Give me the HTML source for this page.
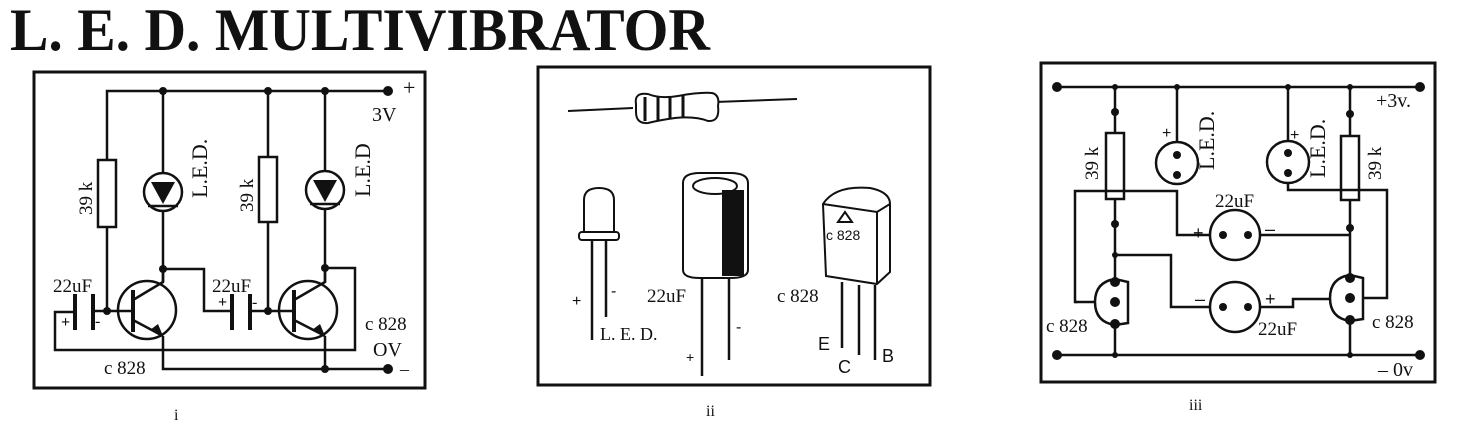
<!DOCTYPE html>
<html><head><meta charset="utf-8"><style>
html,body{margin:0;padding:0;background:#fff;}
svg{display:block;}
text{font-family:"Liberation Serif",serif;fill:#111;}
.s{font-family:"Liberation Sans",sans-serif;}
</style></head><body>
<svg width="1461" height="432" viewBox="0 0 1461 432" xmlns="http://www.w3.org/2000/svg">
<rect width="1461" height="432" fill="#fff"/>
<text x="10" y="50" font-size="60" font-weight="bold" textLength="700" lengthAdjust="spacingAndGlyphs">L. E. D. MULTIVIBRATOR</text>

<!-- Panel i -->
<g stroke="#111" stroke-width="2.5" fill="none">
<rect x="34" y="72" width="391" height="316" stroke-width="3"/>
<polyline points="107,311 107,91 388,91"/>
<line x1="163" y1="91" x2="163" y2="282"/>
<line x1="268" y1="91" x2="268" y2="311"/>
<line x1="325" y1="91" x2="325" y2="282"/>
<rect x="98" y="160" width="18" height="67" fill="#fff"/>
<rect x="259" y="157" width="18" height="65" fill="#fff"/>
<circle cx="163" cy="192" r="19" fill="#fff"/>
<circle cx="325" cy="190" r="19" fill="#fff"/>
<line x1="148" y1="206" x2="178" y2="206"/>
<line x1="310" y1="204" x2="340" y2="204"/>
<circle cx="147" cy="310" r="29" fill="#fff"/>
<circle cx="308" cy="310" r="29" fill="#fff"/>
<line x1="133" y1="290" x2="133" y2="332" stroke-width="4"/>
<line x1="294" y1="290" x2="294" y2="332" stroke-width="4"/>
<line x1="107" y1="311" x2="133" y2="311"/>
<line x1="268" y1="311" x2="294" y2="311"/>
<polyline points="133,300 163,282 163,269 204,269 204,311 232,311"/>
<polyline points="294,300 325,282 325,268 355,268 355,350 55,350 55,312 75,312"/>
<line x1="133" y1="320" x2="163" y2="336"/>
<line x1="294" y1="320" x2="325" y2="336"/>
<polyline points="163,336 163,369 388,369"/>
<line x1="325" y1="336" x2="325" y2="369"/>
<line x1="75" y1="294" x2="75" y2="330" stroke-width="4"/>
<line x1="93" y1="294" x2="93" y2="330" stroke-width="4"/>
<line x1="93" y1="311" x2="107" y2="311"/>
<line x1="232" y1="294" x2="232" y2="330" stroke-width="4"/>
<line x1="250" y1="294" x2="250" y2="330" stroke-width="4"/>
<line x1="250" y1="311" x2="268" y2="311"/>
</g>
<g fill="#111">
<polygon points="151,182 175,182 163,204"/>
<polygon points="313,180 337,180 325,202"/>
<polygon points="163,336 150,330 158,324"/>
<polygon points="325,336 312,330 320,324"/>
<circle cx="163" cy="91" r="4"/><circle cx="268" cy="91" r="4"/><circle cx="325" cy="91" r="4"/>
<circle cx="388" cy="91" r="5"/><circle cx="388" cy="369" r="5"/>
<circle cx="107" cy="311" r="4"/><circle cx="268" cy="311" r="4"/>
<circle cx="163" cy="269" r="4"/><circle cx="325" cy="268" r="4"/><circle cx="325" cy="369" r="4"/>
</g>
<text font-size="19" transform="translate(92,215) rotate(-90)">39 k</text>
<text font-size="19" transform="translate(253,212) rotate(-90)">39 k</text>
<text font-size="22" transform="translate(207,198) rotate(-90)">L.E.D.</text>
<text font-size="22" transform="translate(370,197) rotate(-90)">L.E.D</text>
<text x="53" y="292" font-size="19">22uF</text>
<text x="212" y="292" font-size="19">22uF</text>
<text x="61" y="327" font-size="16" font-weight="bold">+</text>
<text x="95" y="326" font-size="16">-</text>
<text x="218" y="307" font-size="16" font-weight="bold">+</text>
<text x="252" y="307" font-size="16">-</text>
<text x="104" y="374" font-size="19">c 828</text>
<text x="365" y="330" font-size="19">c 828</text>
<text x="373" y="356" font-size="20">OV</text>
<text x="372" y="121" font-size="20">3V</text>
<text x="403" y="95" font-size="22">+</text>
<text x="400" y="375" font-size="18">–</text>
<text x="174" y="420" font-size="16">i</text>

<!-- Panel ii -->
<g stroke="#111" stroke-width="2" fill="none">
<rect x="538" y="67" width="392" height="318" stroke-width="3"/>
<line x1="568" y1="111" x2="633" y2="108"/>
<line x1="715" y1="102" x2="797" y2="99"/>
<path d="M636,104 Q634,92 648,94 Q660,99 678,96 Q700,92 712,93 Q720,95 718,106 Q720,122 708,121 Q695,116 675,118 Q660,120 648,123 Q636,124 636,112 Z" fill="#fff"/>
<line x1="645" y1="97" x2="645" y2="121" stroke-width="3"/>
<line x1="658" y1="97" x2="658" y2="120" stroke-width="3"/>
<line x1="670" y1="96" x2="670" y2="119" stroke-width="3"/>
<line x1="683" y1="95" x2="683" y2="118" stroke-width="3"/>
<path d="M584,232 L584,200 Q584,188 599,188 Q614,188 614,200 L614,232"/>
<rect x="579" y="232" width="40" height="8" rx="3"/>
<line x1="592" y1="240" x2="592" y2="340" stroke-width="2.5"/>
<line x1="606" y1="240" x2="606" y2="317" stroke-width="2.5"/>
<path d="M683,183 Q683,173 700,173 L730,173 Q748,173 748,183 L748,270 Q748,278 730,278 L700,278 Q683,278 683,270 Z"/>
<ellipse cx="715" cy="186" rx="22" ry="8"/>
<line x1="702" y1="278" x2="702" y2="376" stroke-width="2.5"/>
<line x1="729" y1="278" x2="729" y2="360" stroke-width="2.5"/>
<path d="M823,204 Q835,185 870,188 Q890,192 890,204 L890,272 L877,284 L826,276 Z"/>
<path d="M823,204 L877,212 L890,204 M877,212 L877,284"/>
<line x1="842" y1="282" x2="842" y2="348" stroke-width="2.5"/>
<line x1="859" y1="285" x2="859" y2="355" stroke-width="2.5"/>
<line x1="875" y1="285" x2="875" y2="360" stroke-width="2.5"/>
</g>
<rect x="722" y="190" width="22" height="86" fill="#111"/>
<text x="572" y="306" font-size="16" class="s">+</text>
<text x="611" y="296" font-size="16" class="s">-</text>
<text x="600" y="340" font-size="18">L. E. D.</text>
<text x="647" y="302" font-size="19">22uF</text>
<text x="686" y="362" font-size="14" class="s">+</text>
<text x="736" y="332" font-size="16" class="s">-</text>
<text x="777" y="302" font-size="19">c 828</text>
<text x="826" y="240" font-size="14" class="s">c 828</text>
<polygon points="845,212 838,222 852,222" fill="none" stroke="#111" stroke-width="2"/>
<text x="818" y="350" font-size="18" class="s">E</text>
<text x="838" y="373" font-size="18" class="s">C</text>
<text x="882" y="362" font-size="18" class="s">B</text>
<text x="706" y="416" font-size="16">ii</text>

<!-- Panel iii -->
<g stroke="#111" stroke-width="2.5" fill="none">
<rect x="1041" y="63" width="394" height="319" stroke-width="3"/>
<line x1="1057" y1="87" x2="1420" y2="87"/>
<line x1="1057" y1="355" x2="1420" y2="355"/>
<line x1="1115" y1="87" x2="1115" y2="355"/>
<line x1="1350" y1="87" x2="1350" y2="355"/>
<line x1="1177" y1="87" x2="1177" y2="172"/>
<line x1="1288" y1="87" x2="1288" y2="172"/>
<rect x="1106" y="133" width="18" height="66" fill="#fff"/>
<rect x="1341" y="136" width="18" height="64" fill="#fff"/>
<polyline points="1077,302 1075,302 1075,191 1177,191 1177,235 1222,235"/>
<polyline points="1247,235 1350,235"/>
<polyline points="1288,172 1288,190 1387,190 1387,298 1350,298"/>
<polyline points="1115,255 1171,255 1171,307 1222,307"/>
<polyline points="1247,307 1293,307 1293,299 1350,299"/>
<line x1="1075" y1="302" x2="1115" y2="302"/>
<circle cx="1177" cy="163" r="21" fill="#fff"/>
<circle cx="1288" cy="162" r="21" fill="#fff"/>
<circle cx="1235" cy="235" r="25" fill="#fff"/>
<circle cx="1235" cy="307" r="25" fill="#fff"/>
<path d="M1115,279 Q1095,282 1095,302 Q1095,322 1115,325 L1128,323 L1128,282 Z" fill="#fff"/>
<path d="M1350,275 Q1330,278 1330,298 Q1330,318 1350,321 L1363,319 L1363,278 Z" fill="#fff"/>
</g>
<g fill="#111">
<circle cx="1057" cy="87" r="5"/><circle cx="1420" cy="87" r="5"/>
<circle cx="1057" cy="355" r="5"/><circle cx="1420" cy="355" r="5"/>
<circle cx="1115" cy="87" r="3"/><circle cx="1177" cy="87" r="3"/><circle cx="1288" cy="87" r="3"/><circle cx="1350" cy="87" r="3"/>
<circle cx="1115" cy="112" r="4"/><circle cx="1350" cy="114" r="4"/>
<circle cx="1115" cy="224" r="4"/><circle cx="1350" cy="228" r="4"/>
<circle cx="1115" cy="255" r="3"/><circle cx="1115" cy="355" r="3"/><circle cx="1350" cy="355" r="3"/>
<circle cx="1177" cy="155" r="4"/><circle cx="1177" cy="175" r="4"/>
<circle cx="1288" cy="153" r="4"/><circle cx="1288" cy="173" r="4"/>
<circle cx="1223" cy="235" r="4"/><circle cx="1248" cy="235" r="4"/>
<circle cx="1223" cy="307" r="4"/><circle cx="1248" cy="307" r="4"/>
<circle cx="1115" cy="282" r="5"/><circle cx="1115" cy="302" r="5"/><circle cx="1115" cy="324" r="5"/>
<circle cx="1350" cy="278" r="5"/><circle cx="1350" cy="298" r="5"/><circle cx="1350" cy="320" r="5"/>
</g>
<text font-size="19" transform="translate(1098,180) rotate(-90)">39 k</text>
<text font-size="19" transform="translate(1381,180) rotate(-90)">39 k</text>
<text font-size="22" transform="translate(1214,170) rotate(-90)">L.E.D.</text>
<text font-size="22" transform="translate(1325,178) rotate(-90)">L.E.D.</text>
<text x="1162" y="138" font-size="16" class="s">+</text>
<text x="1290" y="140" font-size="16" class="s">+</text>
<text x="1215" y="207" font-size="19">22uF</text>
<text x="1193" y="239" font-size="18" class="s">+</text>
<text x="1265" y="235" font-size="18" class="s">–</text>
<text x="1195" y="305" font-size="18" class="s">–</text>
<text x="1265" y="305" font-size="18" class="s">+</text>
<text x="1258" y="335" font-size="19">22uF</text>
<text x="1046" y="332" font-size="19">c 828</text>
<text x="1372" y="328" font-size="19">c 828</text>
<text x="1376" y="107" font-size="20">+3v.</text>
<text x="1378" y="376" font-size="20">– 0v</text>
<text x="1189" y="410" font-size="16">iii</text>
</svg>
</body></html>
